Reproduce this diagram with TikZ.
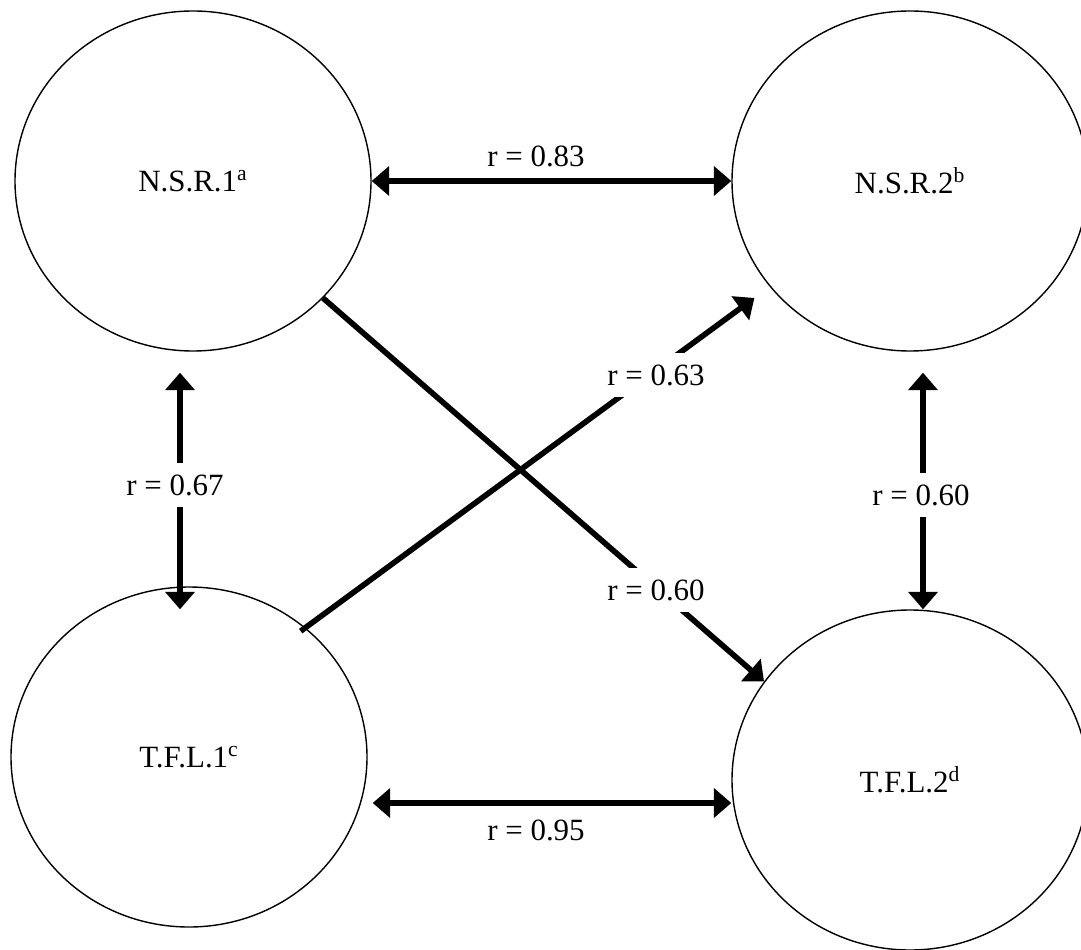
\documentclass[tikz,border=0pt]{standalone}
\usepackage{fontspec}
\setmainfont{Liberation Serif}
\usetikzlibrary{shapes.geometric, arrows.meta, positioning}

\begin{document}
\begin{tikzpicture}[
  var/.style={ellipse, draw, line width=0.8pt, minimum width=7.12cm, minimum height=6.8cm, font=\fontsize{17.6}{21}\selectfont},
  link/.style={line width=3.2pt, -{Triangle[length=0.35cm, width=0.58cm]}},
  dlink/.style={line width=3.2pt, {Triangle[length=0.35cm, width=0.58cm]}-{Triangle[length=0.35cm, width=0.58cm]}},
  rlab/.style={fill=white, inner xsep=3pt, inner ysep=6.5pt, font=\fontsize{17.6}{21}\selectfont}
]
\useasboundingbox (0,0) rectangle (21.62,18.98);
% the four measures, two waves each
\node[var] (nsr1) at (3.86,15.36) {N.S.R.1\textsuperscript{a}};
\node[var] (nsr2) at (18.20,15.36) {N.S.R.2\textsuperscript{b}};
\node[var] (tfl1) at (3.78,3.84) {T.F.L.1\textsuperscript{c}};
\node[var] (tfl2) at (18.20,3.38) {T.F.L.2\textsuperscript{d}};
% correlations
\draw[dlink] (nsr1.east) -- (nsr2.west);
\draw[dlink] ([shift={(0.1,-0.92)}]tfl1.east) -- ([yshift=-0.46cm]tfl2.west);
\draw[dlink] ([shift={(-0.26,-0.42)}]nsr1.south) -- ([shift={(-0.18,-0.46)}]tfl1.north);
\draw[dlink] ([shift={(0.26,-0.42)}]nsr2.south) -- ([xshift=0.26cm]tfl2.north);
\draw[link] (nsr1.-42) -- (tfl2.146);
\draw[link, shorten <=-0.12cm, shorten >=0.38cm] (tfl1.48) -- (nsr2.217);
% r values
\node[rlab] (r83) at (10.72,15.86) {r = 0.83};
\node[rlab] (r95) at (10.72,2.38) {r = 0.95};
\node[rlab] (r67) at (3.50,9.28) {r = 0.67};
\node[rlab] (r60a) at (18.42,9.08) {r = 0.60};
\node[rlab] (r63) at (13.12,11.48) {r = 0.63};
\node[rlab] (r60b) at (13.12,7.18) {r = 0.60};
\end{tikzpicture}
\end{document}
